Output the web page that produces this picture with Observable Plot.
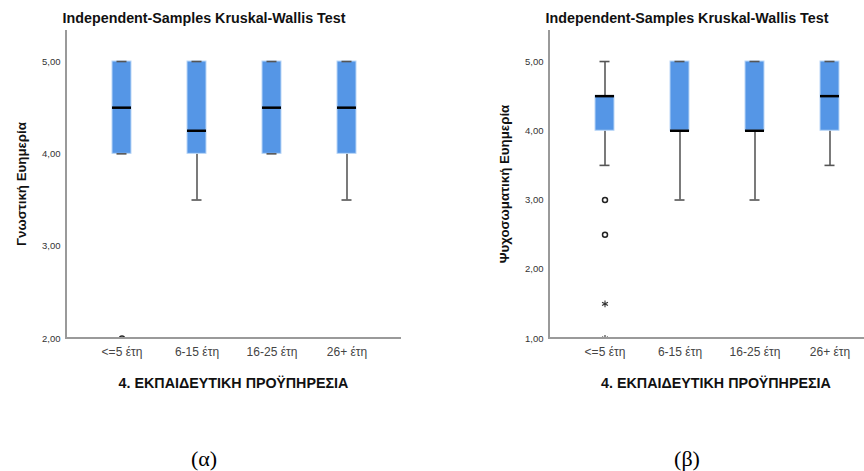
<!DOCTYPE html>
<html>
<head>
<meta charset="utf-8">
<script src="https://cdn.jsdelivr.net/npm/d3@7"></script>
<script src="https://cdn.jsdelivr.net/npm/@observablehq/plot@0.6"></script>
<style>
  html, body { margin: 0; padding: 0; background: #fff; }
  #wrap { position: relative; width: 864px; height: 471px; overflow: hidden; background: #fff; }
  .panel { position: absolute; top: 0; }
  .txt { position: absolute; transform: translate(-50%, -50%); white-space: nowrap; font-family: "Liberation Sans", Arial, sans-serif; color: #111; }
  .title { font-weight: bold; font-size: 14.3px; }
  .xtitle { font-weight: bold; font-size: 14.3px; }
  .ytitle { font-weight: bold; font-size: 13.3px; transform: translate(-50%, -50%) rotate(-90deg); }
  .cap { font-family: "Liberation Serif", "Times New Roman", serif; font-size: 22px; color: #000; }
</style>
</head>
<body>
<div id="wrap"></div>
<script>
// ---------- data ----------
const categories = ["<=5 έτη", "6-15 έτη", "16-25 έτη", "26+ έτη"];

// (α) Γνωστική Ευημερία
const cogMin    = [4.0, 3.5, 4.0, 3.5];
const cogQ1     = [4.0, 4.0, 4.0, 4.0];
const cogMedian = [4.5, 4.25, 4.5, 4.5];
const cogQ3     = [5.0, 5.0, 5.0, 5.0];
const cogMax    = [5.0, 5.0, 5.0, 5.0];
const cogOutlierCat   = ["<=5 έτη"];
const cogOutlierValue = [2.0];
const cogOutlierType  = ["mild"];
const cogTicks = [2, 3, 4, 5];

// (β) Ψυχοσωματική Ευημερία
const psyMin    = [3.5, 3.0, 3.0, 3.5];
const psyQ1     = [4.0, 4.0, 4.0, 4.0];
const psyMedian = [4.5, 4.0, 4.0, 4.5];
const psyQ3     = [4.5, 5.0, 5.0, 5.0];
const psyMax    = [5.0, 5.0, 5.0, 5.0];
const psyOutlierCat   = ["<=5 έτη", "<=5 έτη", "<=5 έτη", "<=5 έτη"];
const psyOutlierValue = [3.0, 2.5, 1.5, 1.0];
const psyOutlierType  = ["mild", "mild", "extreme", "extreme"];
const psyTicks = [1, 2, 3, 4, 5];

const titleText = "Independent-Samples Kruskal-Wallis Test";
const xTitleText = "4. ΕΚΠΑΙΔΕΥΤΙΚΗ ΠΡΟΫΠΗΡΕΣΙΑ";

// ---------- helpers ----------
function boxTable(mins, q1s, meds, q3s, maxs) {
  return categories.map((c, i) => ({cat: c, min: mins[i], q1: q1s[i], med: meds[i], q3: q3s[i], max: maxs[i]}));
}
function outlierTable(cats, vals, types) {
  return cats.map((c, i) => ({cat: c, value: vals[i], type: types[i]}));
}
function axisLines(index, scales, values, dim) {
  const {width, height, marginLeft, marginRight, marginTop, marginBottom} = dim;
  const g = d3.create("svg:g");
  g.append("path")
    .attr("d", `M${marginLeft},${marginTop}V${height - marginBottom}H${width - marginRight}`)
    .attr("fill", "none").attr("stroke", "#9a9a9a").attr("stroke-width", 2);
  return g.node();
}
const fmt = d => d3.format(".2f")(d).replace(".", ",");

function makePlot({boxes, outliers, yDomain, ticks, width, marginLeft, marginRight}) {
  return Plot.plot({
    width, height: 360,
    marginLeft, marginRight, marginTop: 30, marginBottom: 22,
    style: {fontFamily: "'Liberation Sans', Arial, sans-serif", background: "transparent", overflow: "visible"},
    x: {domain: categories, paddingInner: 0.748, paddingOuter: 0.594, axis: null},
    y: {domain: yDomain, axis: null},
    marks: [
      Plot.ruleX(boxes, {x: "cat", y1: "min", y2: "q1", stroke: "#333", strokeWidth: 1.3}),
      Plot.ruleX(boxes, {x: "cat", y1: "q3", y2: "max", stroke: "#333", strokeWidth: 1.3}),
      Plot.barY(boxes, {x: "cat", y1: "q1", y2: "q3", fill: "#5596e6", stroke: "#b9d6f7", strokeWidth: 1}),
      Plot.tickY(boxes, {x: "cat", y: "min", stroke: "#555", strokeWidth: 1.6, insetLeft: 4.5, insetRight: 4.5}),
      Plot.tickY(boxes, {x: "cat", y: "max", stroke: "#555", strokeWidth: 1.6, insetLeft: 4.5, insetRight: 4.5}),
      Plot.tickY(boxes, {x: "cat", y: "med", stroke: "#000", strokeWidth: 2.5}),
      Plot.dot(outliers.filter(d => d.type === "mild"), {x: "cat", y: "value", r: 2.5, symbol: "circle", fill: "#fff", stroke: "#222", strokeWidth: 1.5, clip: true}),
      Plot.dot(outliers.filter(d => d.type === "extreme"), {x: "cat", y: "value", r: 3.2, symbol: "asterisk", stroke: "#333", strokeWidth: 1.1, clip: true}),
      Plot.axisY({ticks, tickFormat: fmt, tickSize: 0, tickPadding: 6, fontSize: 9.5, fill: "#333", label: null}),
      Plot.axisX({tickSize: 0, tickPadding: 9, fontSize: 12, fill: "#444", label: null}),
      axisLines
    ]
  });
}

// ---------- build ----------
const wrap = document.getElementById("wrap");

const left = makePlot({
  boxes: boxTable(cogMin, cogQ1, cogMedian, cogQ3, cogMax),
  outliers: outlierTable(cogOutlierCat, cogOutlierValue, cogOutlierType),
  yDomain: [2, 5.336], ticks: cogTicks,
  width: 432, marginLeft: 66, marginRight: 31
});
left.classList.add("panel");
left.style.left = "0px";
wrap.appendChild(left);

const right = makePlot({
  boxes: boxTable(psyMin, psyQ1, psyMedian, psyQ3, psyMax),
  outliers: outlierTable(psyOutlierCat, psyOutlierValue, psyOutlierType),
  yDomain: [1, 5.448], ticks: psyTicks,
  width: 452, marginLeft: 117, marginRight: 0
});
right.classList.add("panel");
right.style.left = "432px";
wrap.appendChild(right);

function addText(text, cls, x, y) {
  const d = document.createElement("div");
  d.className = "txt " + cls;
  d.textContent = text;
  d.style.left = x + "px";
  d.style.top = y + "px";
  wrap.appendChild(d);
}
addText(titleText, "title", 204, 18);
addText(titleText, "title", 687, 18);
addText("Γνωστική Ευημερία", "ytitle", 21, 184);
addText("Ψυχοσωματική Ευημερία", "ytitle", 504, 184);
addText(xTitleText, "xtitle", 233.5, 383);
addText(xTitleText, "xtitle", 716, 383);
addText("(α)", "cap", 204, 459);
addText("(β)", "cap", 687, 459);
</script>
</body>
</html>
